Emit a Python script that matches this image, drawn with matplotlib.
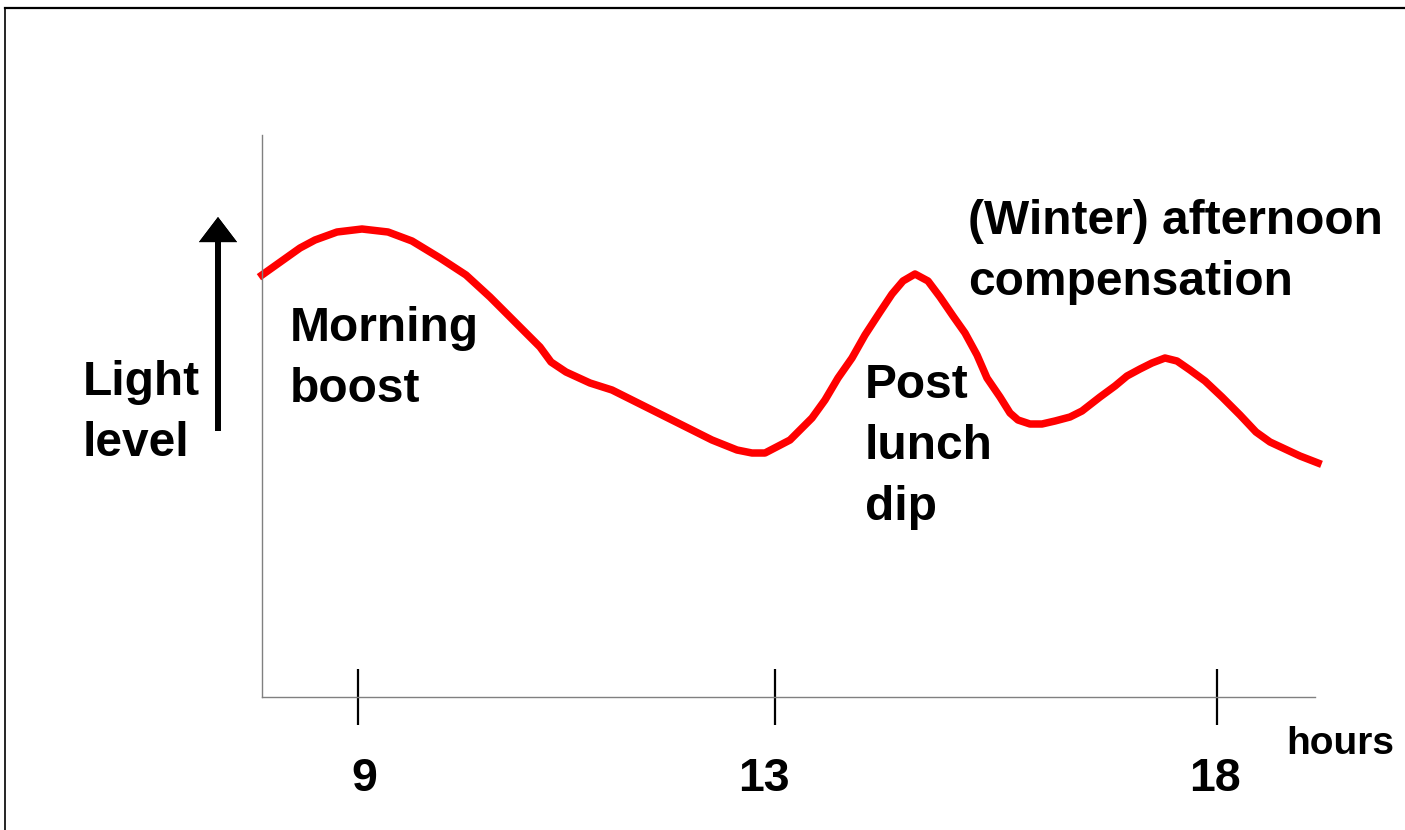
import matplotlib.pyplot as plt
import matplotlib.transforms as mtransforms
from matplotlib.lines import Line2D

plt.rcParams["font.family"] = ["Liberation Sans", "DejaVu Sans"]
plt.rcParams["font.weight"] = "bold"

W, H = 1405, 830

# curve: x = position along the time axis, y = light level
pos = [0, 38, 53, 75, 100, 126, 150, 178, 204, 228, 253, 278, 289, 304, 328, 350,
       378, 418, 450, 475, 490, 503, 528, 550, 563, 576, 590, 603, 618, 630, 641,
       653, 666, 678, 691, 703, 715, 725, 738, 748, 756, 768, 780, 793, 808, 820,
       838, 853, 865, 878, 890, 903, 915, 928, 943, 960, 978, 994, 1008, 1023,
       1038, 1056]
level = [422, 449, 457, 465, 468, 465, 456, 439, 422, 400, 375, 350, 335, 325,
         314, 307, 293, 273, 257, 247, 244, 244, 257, 279, 297, 319, 339, 362,
         385, 403, 416, 423, 416, 400, 381, 364, 342, 319, 300, 284, 277, 273,
         273, 276, 280, 286, 300, 311, 321, 328, 334, 339, 336, 327, 316, 300,
         282, 265, 255, 248, 241, 234]

tick_pos = [96, 513, 955]
tick_labels = ["9", "13", "18"]


def fx(x):
    return x / W


def fy(y):
    return 1 - y / H


fig = plt.figure(figsize=(W / 100, H / 100), dpi=100)
ax = fig.add_axes([fx(262), fy(697), fx(1315) - fx(262), fy(135) - fy(697)])

ax.plot(pos, level, color="#ff0000", lw=5.4, clip_on=False)
ax.set_xlim(0, 1053)
ax.set_ylim(0, 562)

for s in ["top", "right"]:
    ax.spines[s].set_visible(False)
for s in ["left", "bottom"]:
    ax.spines[s].set_color("#808080")
    ax.spines[s].set_linewidth(1.0)

ax.set_yticks([])
ax.set_xticks(tick_pos, tick_labels)
ax.tick_params(axis="x", direction="inout", length=41, width=1.6, color="black",
               labelsize=33.5, pad=23)
# labels in the original sit a little off their ticks
for lab, dx in zip(ax.get_xticklabels(), [6, -11, -2]):
    lab.set_transform(lab.get_transform() + mtransforms.ScaledTranslation(dx / 100, 0, fig.dpi_scale_trans))

# frame lines along top and left edge
fig.add_artist(Line2D([fx(5), 1], [fy(8), fy(8)], color="black", lw=1.6))
fig.add_artist(Line2D([fx(5), fx(5)], [0, fy(8)], color="black", lw=1.2))

# up arrow next to the label
fig.add_artist(plt.annotate("", xy=(fx(218), fy(217)), xytext=(fx(218), fy(431)),
                            xycoords="figure fraction", textcoords="figure fraction",
                            arrowprops=dict(arrowstyle="-|>,head_length=1.25,head_width=0.95",
                                            lw=4.2, color="black", shrinkA=0, shrinkB=0,
                                            joinstyle="miter", capstyle="butt")))

kw = dict(fontsize=34.5, fontweight="bold", ha="left", va="top", linespacing=1.45)
fig.text(fx(83), fy(360), "Light\nlevel", **kw)
fig.text(fx(290), fy(306), "Morning\nboost", **kw)
fig.text(fx(865), fy(363), "Post\nlunch\ndip", **kw)
fig.text(fx(968), fy(199), "(Winter) afternoon\ncompensation", **kw)
fig.text(fx(1286), fy(726), "hours", fontsize=28, fontweight="bold", ha="left", va="top")

fig.savefig("out.png", dpi=100)
